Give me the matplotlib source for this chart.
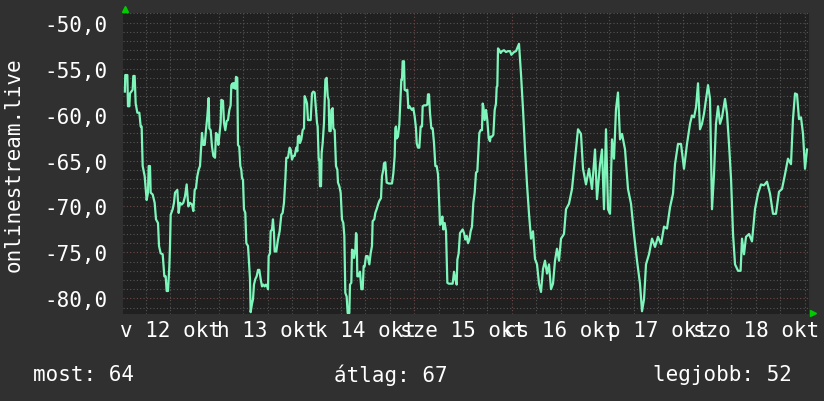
import matplotlib.pyplot as plt

# hours since 2025-10-12 00:00 and the measured value
hours = [0.85, 0.95, 1.46, 1.62, 1.95, 2.11, 2.77, 2.93, 3.26, 3.51, 3.92, 4.41, 4.74, 4.98,
         5.23, 5.72, 6.21, 6.54, 6.71, 7.03, 7.20, 7.69, 8.18, 8.51, 9.00, 9.25, 9.66, 10.15,
         10.56, 10.89, 11.13, 11.46, 11.79, 11.95, 12.12, 12.61, 12.93, 13.18, 13.75, 14.08,
         14.41, 14.82, 15.23, 15.64, 16.05, 16.46, 16.87, 17.36, 17.69, 18.02, 18.34, 18.67,
         19.00, 19.33, 19.57, 19.82, 20.15, 20.48, 20.80, 21.13, 21.46, 21.62, 21.95, 22.28,
         22.61, 23.02, 23.26, 23.59, 23.84, 24.25,
         24.4, 24.57, 24.98, 25.23, 25.55, 25.88, 26.21, 26.54, 26.86, 27.03, 27.36, 27.52,
         27.68, 28.01, 28.18, 28.50, 28.67, 28.98, 29.24, 29.49, 29.65, 29.90, 30.14, 30.47,
         30.72, 31.13, 31.29, 31.62, 31.78, 32.11, 32.36, 32.60, 32.93, 33.26, 33.59, 33.91,
         34.24, 34.57, 34.90, 35.23, 35.55, 35.88, 36.05, 36.21, 36.54, 36.70, 37.03, 37.27,
         37.52, 37.68, 38.09, 38.50, 38.91, 39.32, 39.65, 39.98, 40.31, 40.55, 40.96, 41.37,
         41.62, 41.95, 42.28, 42.60, 43.01, 43.26, 43.42, 43.75, 43.91, 44.24, 44.57, 44.90,
         45.06, 45.39, 45.64, 45.88, 46.21, 46.54, 46.70, 46.87, 47.19, 47.52,
         48.10, 48.26, 48.51, 48.67, 48.83, 49.08, 49.24, 49.49, 49.82, 50.15, 50.47, 50.72,
         50.96, 51.13, 51.46, 51.62, 51.95, 52.11, 52.44, 52.60, 52.77, 53.10, 53.26, 53.59,
         53.92, 54.24, 54.57, 54.82, 55.06, 55.39, 55.64, 56.05, 56.21, 56.54, 56.70, 57.03,
         57.19, 57.52, 57.69, 57.85, 58.01, 58.34, 58.67, 59.00, 59.33, 59.57, 59.82, 60.15,
         60.56, 60.97, 61.29, 61.62, 61.78, 62.19, 62.44, 62.77, 63.10, 63.42, 63.83, 64.08,
         64.41, 64.57, 64.90, 65.23, 65.72, 66.21, 66.54, 66.87, 67.20, 67.36, 67.52, 67.69,
         68.01, 68.34, 68.67, 68.83, 69.00, 69.16, 69.49, 69.65, 69.98, 70.31, 70.56, 70.80,
         71.13, 71.46, 71.78, 72.11, 72.44,
         72.61, 72.93, 73.26, 73.43, 73.59, 73.92, 74.08, 74.41, 74.90, 75.23, 75.39, 75.64,
         75.88, 76.21, 76.54, 76.87, 77.20, 77.52, 77.85, 78.18, 78.34, 78.67, 78.92, 79.16,
         79.49, 79.82, 80.15, 80.47, 80.97, 81.46, 81.79, 82.11, 82.44, 82.61, 82.93, 83.26,
         83.59, 83.92, 84.25, 84.57, 84.90, 85.23, 85.56, 85.88, 86.21, 86.54, 86.87, 87.20,
         87.52, 87.85, 88.02, 88.34, 88.67, 88.84, 89.00, 89.33, 89.66, 89.98, 90.31, 90.64,
         90.80, 91.13, 91.46, 91.79, 92.11, 92.28, 92.44, 92.61, 92.93, 93.26, 93.59, 94.08,
         94.57, 95.07, 95.56, 95.89, 96.54,
         97.03, 97.77, 98.26, 98.75, 99.25, 99.74, 100.23, 100.72, 101.21, 101.70, 102.20,
         102.69, 103.18, 103.67, 104.16, 104.66, 105.15, 105.64, 106.13, 106.62, 107.11,
         107.61, 108.10, 108.83, 109.33, 110.06, 110.80, 111.54, 112.28, 113.01, 113.51,
         114.24, 114.98, 115.72, 116.46, 116.95, 117.69, 118.18, 118.67, 119.16, 119.66,
         120.15, 120.64, 121.13, 121.62, 122.11, 122.61, 123.10, 123.84, 124.57, 125.31,
         126.05, 126.79, 127.52, 128.02, 128.51, 129.00, 129.74, 130.48, 131.21, 131.95,
         132.69, 133.43, 134.16, 134.90, 135.64, 136.13, 136.87, 137.61, 138.34, 139.08,
         139.82, 140.31, 140.81, 141.30, 141.79, 142.28, 142.77, 143.26, 143.76, 144.25,
         144.74, 145.23, 145.72, 146.21, 146.71, 147.20, 147.69, 148.43, 148.92, 149.41,
         149.91, 150.40, 150.89, 151.63, 152.26, 152.61, 153.10, 153.59, 154.33, 155.06,
         155.80, 156.54, 157.28, 158.01, 158.75, 159.49, 160.23, 160.96, 161.70, 162.44,
         163.18, 163.91, 164.65, 165.14, 165.64, 166.13, 166.62, 167.11, 167.61, 168.10, 168.59]

ping = [-57.5, -55.7, -55.7, -59.1, -59.1, -57.7, -57.3, -55.8, -55.8, -58.8, -59.8, -59.8, -61.3, -61.3,
        -65.6, -66.7, -69.3, -68.5, -65.6, -65.6, -68.5, -68.7, -69.6, -71.4, -71.8, -74.3, -75.1, -75.2,
        -77.6, -77.6, -79.2, -79.2, -76.5, -74.3, -70.9, -70.3, -69.6, -68.5, -68.2, -70.7,
        -69.6, -69.8, -69.6, -68.9, -67.6, -70.0, -69.6, -69.8, -70.5, -68.2, -68.0, -66.7,
        -66.0, -65.6, -63.8, -62.0, -63.3, -63.3, -61.7, -60.2, -58.2, -61.5, -61.7, -63.5,
        -64.5, -64.7, -62.0, -62.2, -63.3, -61.5,
        -60.9, -58.4, -58.5, -60.9, -61.7, -60.7, -60.6, -59.5, -59.0, -56.8, -56.6, -57.1,
        -56.6, -57.2, -55.9, -56.0, -63.3, -63.5, -65.6, -66.0, -66.9, -67.1, -70.3, -70.7,
        -74.0, -74.3, -75.4, -77.9, -81.5, -80.6, -80.1, -78.5, -77.9, -77.6, -76.9, -76.9,
        -77.9, -78.7, -78.5, -78.7, -78.5, -78.7, -79.0, -75.4, -75.1, -72.7, -72.5, -71.4,
        -72.9, -74.9, -74.9, -73.6, -72.7, -70.9, -70.7, -69.6, -67.1, -64.7, -64.7, -63.6,
        -63.8, -64.9, -64.5, -64.5, -63.6, -64.0, -62.4, -62.3, -63.1, -62.7, -61.7, -61.5,
        -58.0, -58.4, -58.8, -60.6, -60.6, -60.6, -59.1, -57.7, -57.5, -57.6,
        -60.9, -61.3, -64.9, -64.9, -67.8, -67.8, -64.2, -63.1, -60.9, -56.2, -56.0, -58.0,
        -58.4, -61.8, -61.8, -59.5, -59.3, -61.5, -61.7, -63.5, -65.6, -66.0, -67.4, -67.8,
        -68.5, -71.4, -71.8, -73.2, -79.4, -79.8, -81.6, -81.6, -78.5, -78.3, -74.7, -74.8,
        -75.6, -74.7, -72.9, -73.1, -77.6, -77.6, -77.1, -79.0, -79.0, -76.5, -76.5, -75.4,
        -75.4, -76.3, -75.1, -74.3, -71.6, -71.4, -70.7, -70.3, -69.8, -69.4, -69.1, -66.7,
        -66.0, -65.3, -65.2, -67.4, -67.5, -67.5, -67.5, -66.4, -64.5, -61.5, -61.3, -62.6,
        -62.4, -61.1, -57.7, -56.2, -56.2, -54.2, -54.2, -57.3, -57.4, -57.3, -59.3, -59.1,
        -59.3, -59.5, -59.3, -60.2, -61.5,
        -63.1, -63.6, -63.6, -62.4, -61.3, -61.3, -59.1, -59.0, -59.0, -58.9, -57.8, -57.8,
        -59.8, -61.5, -61.5, -63.1, -65.6, -65.6, -66.5, -70.0, -72.0, -71.8, -71.1, -72.5,
        -71.8, -72.7, -78.3, -78.4, -78.4, -78.4, -77.1, -77.9, -78.5, -75.8, -75.1, -72.9,
        -72.7, -72.5, -72.9, -73.6, -73.2, -74.0, -73.6, -72.7, -72.2, -69.6, -68.5, -66.3,
        -66.2, -63.5, -62.0, -61.7, -61.7, -58.8, -59.1, -60.6, -59.5, -60.6, -62.6, -62.9,
        -62.4, -62.4, -62.2, -59.5, -58.8, -57.0, -56.9, -52.8, -53.0, -53.3, -53.1, -53.0,
        -53.2, -53.1, -53.1, -53.5, -53.2,
        -53.1, -52.3, -55.6, -59.4, -63.8, -67.6, -70.8, -73.5, -72.7, -75.7, -76.3,
        -78.4, -79.3, -76.8, -75.9, -77.3, -76.3, -79.0, -78.4, -75.9, -74.6,
        -75.9, -73.5, -73.0, -70.3, -69.7, -68.1, -64.8, -61.6, -62.1, -65.9,
        -67.6, -65.9, -68.1, -63.8, -69.2, -65.4, -63.8, -70.3, -61.6, -70.3,
        -70.8, -62.7, -64.8, -59.4, -57.6, -62.7, -62.1, -63.8, -68.1, -69.7,
        -73.0, -75.9, -78.4, -81.4, -80.1, -76.3, -75.2, -73.5, -74.4, -73.3,
        -74.1, -72.2, -72.4, -70.1, -68.6, -65.4, -63.2, -63.2, -65.9, -63.2,
        -61.0, -60.1, -60.3, -59.2, -56.6, -61.6, -61.0, -59.9, -58.3, -56.8,
        -58.3, -70.3, -66.5, -61.0, -59.1, -61.0, -60.3, -58.3, -59.9, -63.2,
        -67.0, -73.0, -76.3, -77.0, -77.0, -73.5, -75.2, -73.3, -73.0, -73.8,
        -70.3, -68.6, -67.6, -67.7, -67.3, -68.6, -70.8, -70.8, -68.4, -68.1,
        -66.5, -64.8, -65.4, -60.5, -57.7, -57.8, -60.5, -60.3, -62.1, -65.9, -63.8]

day_labels = ['v 12 okt', 'h 13 okt', 'k 14 okt', 'sze 15 okt', 'cs 16 okt', 'p 17 okt', 'szo 18 okt']
y_ticks = [-80, -75, -70, -65, -60, -55, -50]
legend_texts = ['most: 64', 'átlag: 67', 'legjobb: 52']

mono = 'DejaVu Sans Mono'
fs = 15
bg = '#303030'

fig = plt.figure(figsize=(8.24, 4.02), dpi=100, facecolor=bg)
ax = fig.add_axes([123 / 824, 87 / 402, 686 / 824, 301 / 402])
ax.set_facecolor('#202020')

days = [h / 24 for h in hours]
ax.set_xlim(0.0164, 7.045)
ax.set_ylim(-81.7, -48.95)

# grid: minor every 6h / 1 unit, major every day / 5 units
for i in range(29):
    x = i * 0.25
    major = i % 4 == 0
    ax.axvline(x, color='#704848' if major else '#555555', lw=0.8, ls=(0, (1, 2)), zorder=1)
for v in range(-81, -48):
    major = v % 5 == 0
    ax.axhline(v, color='#704848' if major else '#555555', lw=0.8, ls=(0, (1, 2)), zorder=1)

ax.plot(days, ping, color='#7ef5ba', lw=1.6, zorder=3)

ax.set_xticks([])
ax.set_yticks(y_ticks)
ax.set_yticklabels([f'{v:.1f}'.replace('.', ',') for v in y_ticks],
                   fontfamily=mono, fontsize=fs, color='white')
ax.tick_params(axis='y', length=0, pad=11)
for s in ax.spines.values():
    s.set_visible(False)

for i, lab in enumerate(day_labels):
    ax.text(i + 0.5, -0.053, lab, transform=ax.get_xaxis_transform(), ha='center', va='center',
            fontfamily=mono, fontsize=fs, color='white')

# little green arrow heads at the axis ends
ax.plot([0.003], [1.013], marker='^', color='#00cc00', ms=4, transform=ax.transAxes, clip_on=False)
ax.plot([1.006], [0.002], marker='>', color='#00cc00', ms=4, transform=ax.transAxes, clip_on=False)

fig.text(14 / 824, 1 - 165 / 402, 'onlinestream.live', rotation=90, ha='center', va='center',
         fontfamily=mono, fontsize=fs, color='white')

fig.text(33 / 824, 1 - 375 / 402, legend_texts[0], ha='left', va='center', fontfamily=mono, fontsize=fs, color='white')
fig.text(334 / 824, 1 - 375 / 402, legend_texts[1], ha='left', va='center', fontfamily=mono, fontsize=fs, color='white')
fig.text(792 / 824, 1 - 375 / 402, legend_texts[2], ha='right', va='center', fontfamily=mono, fontsize=fs, color='white')

fig.savefig('out.png', dpi=100, facecolor=bg)
